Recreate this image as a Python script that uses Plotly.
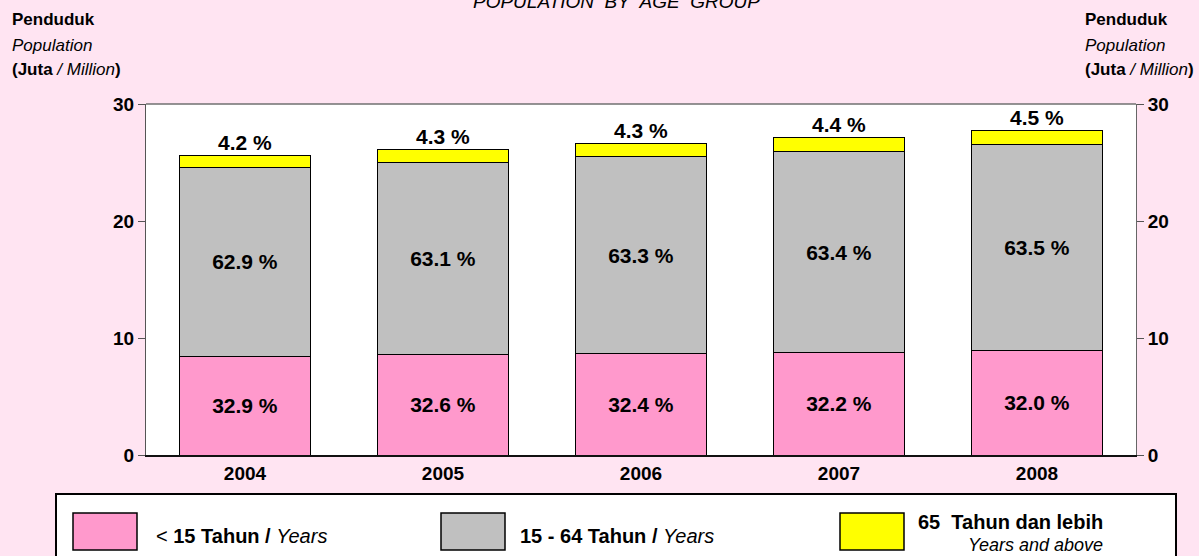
import plotly.graph_objects as go

years = ["2004", "2005", "2006", "2007", "2008"]
under15 = [8.45, 8.55, 8.65, 8.75, 8.9]
age15_64 = [16.1, 16.45, 16.85, 17.2, 17.6]
age65 = [1.08, 1.12, 1.15, 1.2, 1.25]
pct_under15 = ["32.9 %", "32.6 %", "32.4 %", "32.2 %", "32.0 %"]
pct_15_64 = ["62.9 %", "63.1 %", "63.3 %", "63.4 %", "63.5 %"]
pct_65 = ["4.2 %", "4.3 %", "4.3 %", "4.4 %", "4.5 %"]
yticks = [0, 10, 20, 30]

FONT = "Liberation Sans, Arial, sans-serif"
BG = "#FFE4F2"
L, R, T, B = 146, 63, 104, 101
W, H = 1199, 556
PW, PH = W - L - R, H - T - B

fig = go.Figure()
lblfont = dict(family=FONT, size=21, color="black", weight="bold")
fig.add_trace(go.Bar(x=years, y=under15, marker=dict(color="#FF99CC", line=dict(color="#000000", width=1)),
                     text=pct_under15, textposition="inside", insidetextanchor="middle",
                     textfont=lblfont, textangle=0, name="< 15 Tahun / Years", showlegend=False))
fig.add_trace(go.Bar(x=years, y=age15_64, marker=dict(color="#C0C0C0", line=dict(color="#000000", width=1)),
                     text=pct_15_64, textposition="inside", insidetextanchor="middle",
                     textfont=lblfont, textangle=0, name="15 - 64 Tahun / Years", showlegend=False))
fig.add_trace(go.Bar(x=years, y=age65, marker=dict(color="#FFFF00", line=dict(color="#000000", width=1)),
                     textposition="none", name="65 Tahun dan lebih", showlegend=False))
fig.add_trace(go.Scatter(x=years, y=[None] * 5, yaxis="y2", showlegend=False, hoverinfo="skip"))

totals = [a + b + c for a, b, c in zip(under15, age15_64, age65)]
for i, (tot, lab) in enumerate(zip(totals, pct_65)):
    fig.add_annotation(x=i, y=tot, text=f"<b>{lab}</b>", showarrow=False, yanchor="bottom", yshift=-1,
                       font=dict(family=FONT, size=21, color="black"))

axfont = dict(family=FONT, size=19, color="black", weight="bold")
fig.update_layout(
    width=W, height=H,
    paper_bgcolor=BG, plot_bgcolor="white",
    barmode="stack", bargap=0.34,
    margin=dict(l=L, r=R, t=T, b=B, autoexpand=False),
    xaxis=dict(type="category", range=[-0.5, len(years) - 0.5], showline=True, linecolor="#111111",
               linewidth=1.5, mirror=False, ticks="", tickfont=axfont, showgrid=False),
    yaxis=dict(range=[0, 30], tickvals=yticks, showline=True, linecolor="#555555", linewidth=1,
               ticks="outside", ticklen=7, tickcolor="#555555", showgrid=False, zeroline=False,
               tickfont=axfont),
    yaxis2=dict(range=[0, 30], tickvals=yticks, overlaying="y", side="right", showline=True,
                linecolor="#666666", linewidth=1, ticks="outside", ticklen=7, tickcolor="#555555",
                showgrid=False, zeroline=False, tickfont=axfont),
    font=dict(family=FONT, color="black"),
)

# grey top border of the plot area
fig.add_shape(type="line", xref="paper", yref="paper", x0=0, x1=1, y0=1, y1=1,
              line=dict(color="#707070", width=1.5))


def px_to_paper(xp, yp):
    return (xp - L) / PW, (H - B - yp) / PH


# title (cut off at top edge, as in the original)
tx, ty = px_to_paper(616, 1)
fig.add_annotation(xref="paper", yref="paper", x=tx, y=ty, xanchor="center", yanchor="middle",
                   text="<i>POPULATION  BY  AGE  GROUP</i>", showarrow=False,
                   font=dict(family=FONT, size=19, color="black"))

# axis titles
for xp in (10, 1083):
    for txt, yp in [("<b>Penduduk</b>", 20), ("<i>Population</i>", 45),
                    ("<b>(Juta</b> <i>/ Million</i><b>)</b>", 69)]:
        px_, py_ = px_to_paper(xp, yp)
        fig.add_annotation(xref="paper", yref="paper", x=px_, y=py_, xanchor="left", yanchor="middle",
                           text=txt, showarrow=False, font=dict(family=FONT, size=17, color="black"))

# legend box
x0, y0 = px_to_paper(56, 494)
x1, y1 = px_to_paper(1176, 562)
fig.add_shape(type="rect", xref="paper", yref="paper", x0=x0, y0=y1, x1=x1, y1=y0,
              line=dict(color="black", width=2), fillcolor="white", layer="below")

legend_items = [
    ("#FF99CC", 73, 154, "&lt; <b>15 Tahun /</b> <i>Years</i>", None),
    ("#C0C0C0", 441, 518, "<b>15 - 64 Tahun /</b> <i>Years</i>", None),
    ("#FFFF00", 840, 916, "<b>65  Tahun dan lebih</b>", "<i>Years and above</i>"),
]
for col, xs, xt, t1, t2 in legend_items:
    a0, b0 = px_to_paper(xs, 513)
    a1, b1 = px_to_paper(xs + 64, 550)
    fig.add_shape(type="rect", xref="paper", yref="paper", x0=a0, y0=b1, x1=a1, y1=b0,
                  line=dict(color="black", width=1.5), fillcolor=col)
    if t2 is None:
        tx, ty = px_to_paper(xt, 536)
        fig.add_annotation(xref="paper", yref="paper", x=tx, y=ty, xanchor="left", yanchor="middle",
                           text=t1, showarrow=False, font=dict(family=FONT, size=20, color="black"))
    else:
        tx, ty = px_to_paper(xt, 522)
        fig.add_annotation(xref="paper", yref="paper", x=tx, y=ty, xanchor="left", yanchor="middle",
                           text=t1, showarrow=False, font=dict(family=FONT, size=20, color="black"))
        tx, ty = px_to_paper(966, 545)
        fig.add_annotation(xref="paper", yref="paper", x=tx, y=ty, xanchor="left", yanchor="middle",
                           text=t2, showarrow=False, font=dict(family=FONT, size=18, color="black"))

fig.write_html("out.html", config={"displayModeBar": False},
               post_script="document.body.style.margin='0';document.body.style.overflow='hidden';")
